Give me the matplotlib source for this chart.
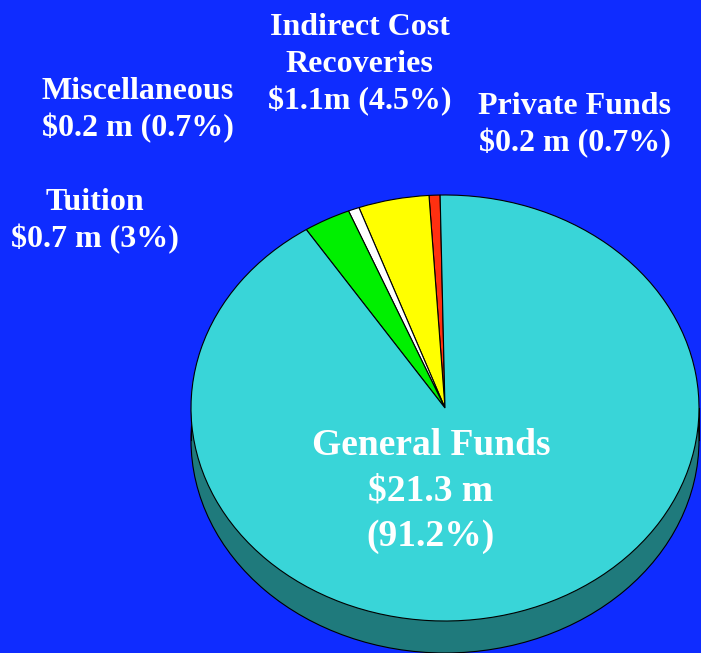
import matplotlib
matplotlib.use("Agg")
import matplotlib.pyplot as plt
from matplotlib.patches import Ellipse, Rectangle

plt.rcParams['font.family'] = ['Liberation Serif', 'DejaVu Serif']

# shares in percent, counter-clockwise order starting just left of 12 o'clock
labels = ["Private Funds", "Indirect Cost Recoveries", "Miscellaneous", "Tuition", "General Funds"]
shares = [0.7, 4.5, 0.7, 3.0, 91.2]
colors = ["#FF3010", "#FFFF00", "#FFFFFF", "#00F000", "#39D5D8"]

bg = "#0F2CFF"
side = "#1F7A7C"

fig = plt.figure(figsize=(7.01, 6.53), dpi=100, facecolor=bg)

# pie centre and radii in pixels
cx, cy, rx, ry = 445, 408, 254, 213
depth = 32

# side wall of the pie
ax = fig.add_axes([0, 0, 1, 1], zorder=0)
ax.set_xlim(0, 701)
ax.set_ylim(653, 0)
ax.axis('off')
ax.add_patch(Rectangle((cx - rx, cy), 2 * rx, depth, fc=side, ec='none'))
ax.add_patch(Ellipse((cx, cy + depth), 2 * rx, 2 * ry, fc=side, ec='black', lw=0.8))
ax.plot([cx - rx, cx - rx], [cy, cy + depth], color='black', lw=0.8)
ax.plot([cx + rx, cx + rx], [cy, cy + depth], color='black', lw=0.8)

# wedges drawn on a unit circle, the axes box squashes it to the ellipse
ax_pie = fig.add_axes([(cx - rx) / 701, 1 - (cy + ry) / 653, 2 * rx / 701, 2 * ry / 653], zorder=1)
ax_pie.pie(shares, colors=colors, startangle=91.1, counterclock=True, radius=1,
           wedgeprops=dict(edgecolor='black', linewidth=0.8), frame=False)
ax_pie.set_aspect('auto')
ax_pie.set_xlim(-1, 1)
ax_pie.set_ylim(-1, 1)
ax_pie.axis('off')

# labels sit above everything
ax_txt = fig.add_axes([0, 0, 1, 1], zorder=2)
ax_txt.set_xlim(0, 701)
ax_txt.set_ylim(653, 0)
ax_txt.axis('off')

txt = dict(color='white', fontweight='bold', ha='center', va='center', fontsize=23, linespacing=1.33)
ax_txt.text(359.5, 65, "Indirect Cost\nRecoveries\n$1.1m (4.5%)", **txt)
ax_txt.text(138, 110, "Miscellaneous\n$0.2 m (0.7%)", **txt)
ax_txt.text(575, 125, "Private Funds\n$0.2 m (0.7%)", **txt)
ax_txt.text(95, 221, "Tuition\n$0.7 m (3%)", **txt)
ax_txt.text(431, 491, "General Funds\n$21.3 m\n(91.2%)", color='white', fontweight='bold',
            ha='center', va='center', fontsize=27, linespacing=1.39)

fig.savefig("out.png", dpi=100, facecolor=bg)
